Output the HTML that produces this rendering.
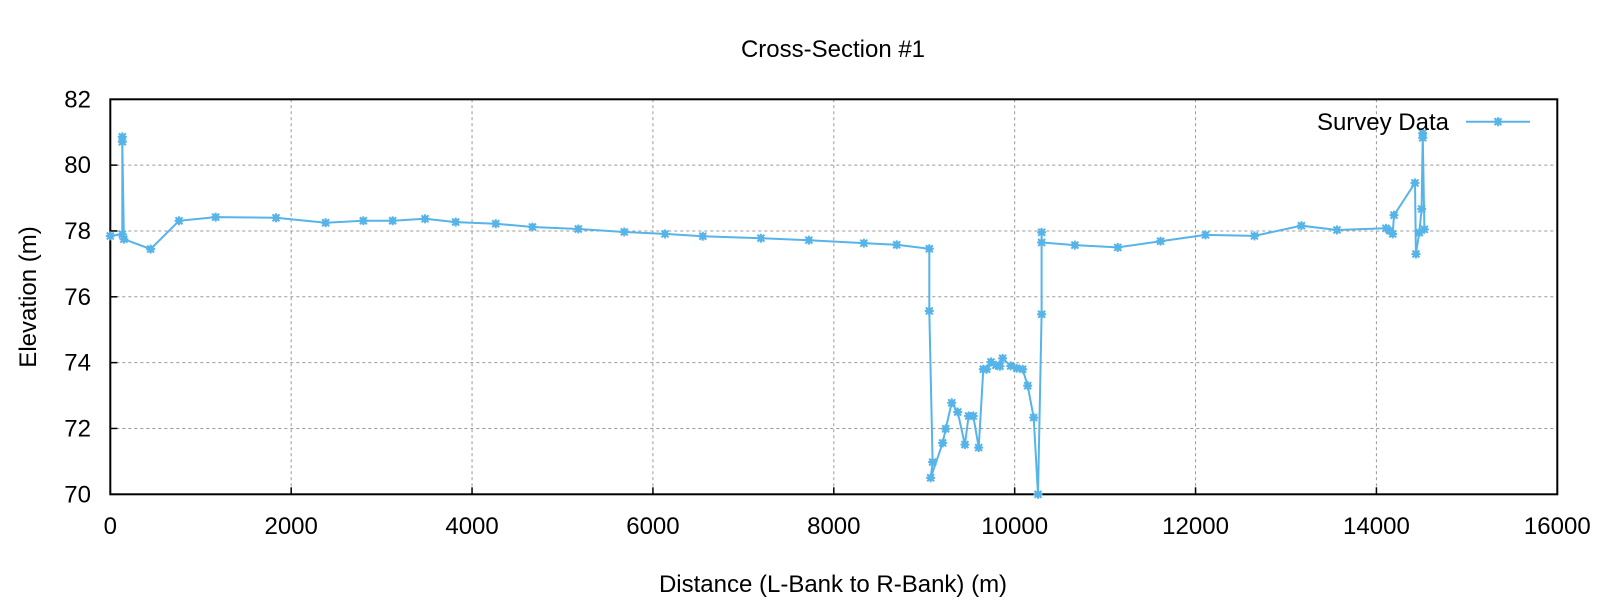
<!DOCTYPE html>
<html><head><meta charset="utf-8"><style>
html,body{margin:0;padding:0;background:#fff;}
svg{display:block;font-family:"Liberation Sans Narrow","Liberation Sans",sans-serif;}
</style></head><body>
<svg id="chart" width="1600" height="600" viewBox="0 0 1600 600">
<text x="833" y="57" font-size="24" text-anchor="middle">Cross-Section #1</text>
<g id="grid"></g>
<g id="ticks"></g>
<rect x="110.3" y="99.3" width="1447" height="395" fill="none" stroke="#000" stroke-width="2"/>
<text transform="translate(36,297) rotate(-90)" font-size="24" text-anchor="middle">Elevation (m)</text>
<text x="833" y="592" font-size="24" text-anchor="middle">Distance (L-Bank to R-Bank) (m)</text>
<g id="series"></g>
<g>
<text x="1449" y="130" font-size="24" text-anchor="end">Survey Data</text>
<line x1="1466" y1="121.7" x2="1530" y2="121.7" stroke="#56b4e9" stroke-width="2"/>
<g id="legmark"></g>
</g>
</svg>
<script>
const distances = [0,133,133,133,150,446,760,1165,1832,2381,2798,3122,3480,3819,4262,4668,5175,5683,6134,6551,7194,7724,8332,8695,9056,9056,9093,9071,9204,9237,9304,9370,9450,9491,9542,9602,9653,9690,9738,9793,9837,9867,9956,10022,10088,10144,10210,10258,10298,10298,10298,10666,11140,11613,12110,12651,13170,13564,14105,14149,14180,14194,14426,14437,14474,14500,14512,14512,14530];
const elevations = [77.85,77.9,80.86,80.71,77.75,77.45,78.31,78.42,78.40,78.25,78.31,78.31,78.37,78.27,78.22,78.12,78.06,77.97,77.91,77.84,77.78,77.72,77.63,77.58,77.46,75.57,70.98,70.50,71.56,71.99,72.78,72.5,71.51,72.38,72.38,71.42,73.80,73.80,74.02,73.92,73.89,74.13,73.9,73.83,73.80,73.30,72.33,70.0,75.47,77.96,77.65,77.57,77.5,77.69,77.88,77.85,78.16,78.03,78.08,78.01,77.91,78.48,79.46,77.3,77.95,78.67,80.83,80.97,78.05];
const xTicks = [0,2000,4000,6000,8000,10000,12000,14000,16000];
const yTicks = [70,72,74,76,78,80,82];
const NS="http://www.w3.org/2000/svg";
const X0=110.3,X1=1557.3,Y0=494.3,Y1=99.3;
function xs(d){return X0+(d-0)/(16000-0)*(X1-X0);}
function ys(e){return Y0-(e-70)/(82-70)*(Y0-Y1);}
function mk(tag,attrs,parent){const el=document.createElementNS(NS,tag);for(const k in attrs)el.setAttribute(k,attrs[k]);parent.appendChild(el);return el;}
const grid=document.getElementById('grid'),ticks=document.getElementById('ticks');
xTicks.forEach(t=>{const x=xs(t);
 if(t>0&&t<16000){const g=mk('line',{x1:x,y1:Y1,x2:x,y2:Y0,stroke:'#999','stroke-dasharray':'3,3','stroke-width':1},grid);
 
 }
 const tk=mk('line',{x1:x,y1:Y0,x2:x,y2:Y0-7,stroke:'#000','stroke-width':1.5},ticks);
 
 
 const tx=mk('text',{x:x,y:534,'font-size':24,'text-anchor':'middle'},ticks);tx.textContent=t;
 
 
});
yTicks.forEach(t=>{const y=ys(t);
 if(t>70&&t<82){const g=mk('line',{x1:X0,y1:y,x2:X1,y2:y,stroke:'#999','stroke-dasharray':'3,3','stroke-width':1},grid);
 
 }
 const tk=mk('line',{x1:X0,y1:y,x2:X0+7,y2:y,stroke:'#000','stroke-width':1.5},ticks);
 
 
 const tx=mk('text',{x:91,y:y+8,'font-size':24,'text-anchor':'end'},ticks);tx.textContent=t;
 
 
});
const series=document.getElementById('series');
const pts=distances.map((d,i)=>xs(d).toFixed(1)+','+ys(elevations[i]).toFixed(1)).join(' ');
const pl=mk('polyline',{points:pts,fill:'none',stroke:'#56b4e9','stroke-width':2},series);


function marker(x,y,parent){const g=mk('g',{stroke:'#56b4e9','stroke-width':2},parent);
 mk('line',{x1:x-4.5,y1:y,x2:x+4.5,y2:y},g);mk('line',{x1:x,y1:y-4.5,x2:x,y2:y+4.5},g);
 mk('line',{x1:x-3.5,y1:y-3.5,x2:x+3.5,y2:y+3.5},g);mk('line',{x1:x-3.5,y1:y+3.5,x2:x+3.5,y2:y-3.5},g);
 mk('rect',{x:x-3,y:y-3,width:6,height:6,fill:'#56b4e9',stroke:'none'},g);return g;}
distances.forEach((d,i)=>{const m=marker(xs(d),ys(elevations[i]),series);
 
 });
marker(1498,121.7,document.getElementById('legmark'));
</script>
</body></html>
